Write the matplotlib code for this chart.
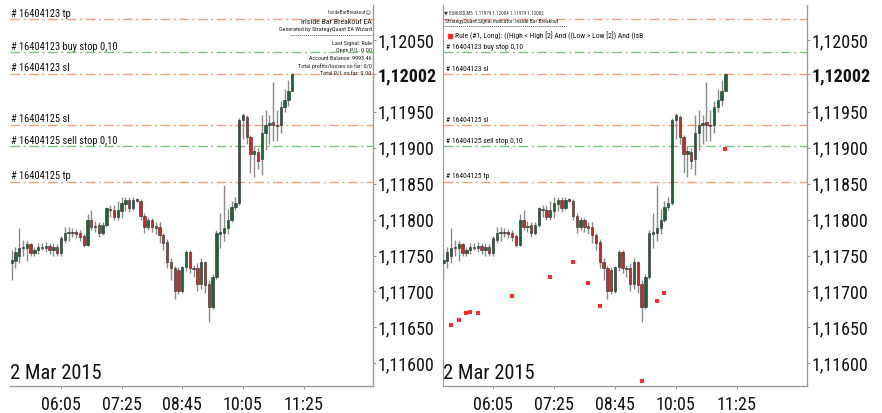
import numpy as np
import matplotlib
matplotlib.use("Agg")
import matplotlib.pyplot as plt
from matplotlib import font_manager as fm

# ---------------- data ----------------
base = 1.11600
opens_pts = [140, 142, 150, 160, 161, 166, 154, 157, 162, 161, 163, 158, 162, 153, 172, 181, 182, 183, 181, 177,
             165, 200, 190, 192, 181, 192, 215, 214, 204, 212, 222, 227, 216, 228, 226, 205, 190, 200, 191, 190,
             178, 169, 141, 133, 130, 101, 134, 155, 133, 132, 111, 141, 111, 79, 120, 180, 182, 188, 200, 218,
             223, 338, 343, 315, 292, 294, 285, 320, 332, 336, 332, 331, 357, 366, 379]
highs_pts = [158, 162, 188, 171, 172, 168, 162, 167, 168, 169, 167, 168, 166, 177, 190, 190, 188, 187, 186, 180,
             208, 213, 198, 196, 197, 218, 221, 220, 226, 231, 232, 232, 232, 230, 228, 209, 203, 202, 196, 197,
             182, 173, 146, 135, 134, 136, 158, 157, 137, 140, 146, 143, 116, 124, 185, 209, 248, 215, 226, 232,
             342, 348, 346, 318, 302, 300, 346, 352, 345, 392, 352, 365, 382, 394, 404]
lows_pts = [116, 132, 139, 150, 143, 150, 149, 152, 158, 155, 152, 150, 150, 150, 168, 170, 176, 175, 170, 162,
            163, 185, 183, 176, 178, 190, 203, 200, 200, 202, 212, 210, 213, 224, 200, 182, 186, 183, 180, 168,
            158, 132, 116, 90, 96, 98, 128, 126, 120, 100, 104, 98, 58, 76, 118, 160, 170, 180, 196, 214,
            221, 312, 305, 265, 259, 270, 262, 297, 305, 310, 310, 320, 350, 358, 379]
closes_pts = [144, 155, 160, 162, 166, 153, 157, 162, 161, 163, 158, 162, 153, 174, 181, 182, 183, 180, 176, 165,
              200, 190, 191, 181, 192, 216, 214, 204, 213, 223, 227, 216, 227, 226, 205, 190, 200, 190, 189, 178,
              168, 141, 132, 101, 100, 134, 155, 132, 131, 111, 141, 109, 79, 120, 181, 183, 188, 200, 218, 223,
              339, 346, 315, 292, 296, 281, 320, 332, 334, 331, 330, 357, 366, 379, 402]

opens = base + np.array(opens_pts) / 1e5
highs = base + np.array(highs_pts) / 1e5
lows = base + np.array(lows_pts) / 1e5
closes = base + np.array(closes_pts) / 1e5

tick_bars = [13, 29, 45, 61, 77]
tick_times = ["06:05", "07:25", "08:45", "10:05", "11:25"]
price_ticks = [1.11600, 1.11650, 1.11700, 1.11750, 1.11800, 1.11850, 1.11900, 1.11950, 1.12002, 1.12050]
current_price = 1.12002

# order lines
order_labels = ["# 16404123 tp", "# 16404123 buy stop 0,10", "# 16404123 sl",
                "# 16404125 sl", "# 16404125 sell stop 0,10", "# 16404125 tp"]
order_prices = [1.12079, 1.12033, 1.12003, 1.11932, 1.11902, 1.11853]
order_kinds = ["tpsl", "pending", "tpsl", "tpsl", "pending", "tpsl"]

# indicator signal dots (right panel)
signal_bars = [2, 4, 6, 7, 9, 18, 28, 34, 38, 41, 52, 56, 58, 74]
signal_prices = [1.11653, 1.11660, 1.11670, 1.11671, 1.11670, 1.11694, 1.11720, 1.11741, 1.11712,
                 1.11680, 1.11576, 1.11687, 1.11698, 1.11898]

info_lines = ["Last Signal: Rule", "Open P/L: 0.00", "Account Balance: 9993.46",
              "Total profits/losses so far: 0/0", "Total P/L so far: 0.00"]

# ---------------- fonts ----------------
names = {f.name for f in fm.fontManager.ttflist}
cond = None
stretch = "normal"
for c in ["Roboto Condensed", "Liberation Sans Narrow", "Open Sans Condensed", "Noto Sans Condensed",
          "DejaVu Sans Condensed"]:
    if c in names:
        cond = c
        break
if cond is None:
    dj = [f for f in fm.fontManager.ttflist if f.name == "DejaVu Sans" and f.stretch in ("condensed", 600, "semi-condensed")]
    if dj:
        cond = "DejaVu Sans"
        stretch = "condensed"
    elif "Roboto" in names:
        cond = "Roboto"
    else:
        cond = "DejaVu Sans"
FAM = [cond, "DejaVu Sans"]

W, H = 882, 413
fig = plt.figure(figsize=(W / 100, H / 100), dpi=100)
fig.patch.set_facecolor("white")

ybot, ytop = 1.115688, 1.120987
C_TPSL = "#f5a07c"
C_PEND = "#7cc47c"
C_GREEN = "#1d6338"
C_RED = "#c42b2b"
C_WICK = "#8a8a8a"
C_AXIS = "#9a9a9a"


def ftext(xpx, ypx, s, **kw):
    kw.setdefault("family", FAM)
    kw.setdefault("fontstretch", stretch)
    return fig.text(xpx / W, 1 - ypx / H, s, **kw)


def panel(ax, xleft, label_size, label_x, label_off, show_first_tp):
    n = len(opens)
    x = np.arange(n)
    ax.vlines(x, lows, highs, color=C_WICK, lw=1.0, zorder=2)
    up = closes >= opens
    bottom = np.minimum(opens, closes)
    height = np.maximum(np.abs(closes - opens), 0.000014)
    ax.bar(x, height, bottom=bottom, width=0.62, color=np.where(up, C_GREEN, C_RED),
           edgecolor="#2b2b2b", linewidth=0.4, zorder=3)
    for lab, p, k in zip(order_labels, order_prices, order_kinds):
        ax.axhline(p, color=C_TPSL if k == "tpsl" else C_PEND, lw=1.0,
                   linestyle=(0, (7, 2.5, 1.5, 2.5)), zorder=1)
        if lab.endswith("tp") and lab.startswith("# 16404123") and not show_first_tp:
            continue
        ax.annotate(lab, xy=(label_x, p), xytext=(0, label_off), textcoords="offset points",
                    ha="left", va="center", fontsize=label_size, family=FAM, fontstretch=stretch,
                    color="#111111", zorder=5)
    ax.set_xlim(xleft, 95.4)
    ax.set_ylim(ybot, ytop)
    ax.yaxis.tick_right()
    ax.set_yticks(price_ticks)
    ax.set_yticklabels([f"{p:.5f}".replace(".", ",") for p in price_ticks])
    for t, p in zip(ax.get_yticklabels(), price_ticks):
        t.set_family(FAM)
        t.set_fontstretch(stretch)
        t.set_fontsize(13)
        t.set_color("#111111")
        if abs(p - current_price) < 1e-7:
            t.set_fontweight("bold")
    ax.set_xticks(tick_bars)
    ax.set_xticklabels(tick_times)
    for t in ax.get_xticklabels():
        t.set_family(FAM)
        t.set_fontstretch(stretch)
        t.set_fontsize(13)
        t.set_color("#111111")
    ax.tick_params(axis="y", direction="out", length=2.5, width=0.8, color=C_AXIS, pad=0.8)
    ax.tick_params(axis="x", direction="out", length=2.5, width=0.8, color=C_AXIS, pad=4.8)
    for s in ["top", "left"]:
        ax.spines[s].set_visible(False)
    for s in ["right", "bottom"]:
        ax.spines[s].set_color(C_AXIS)
        ax.spines[s].set_linewidth(1.0)
    ax.text(0.0, 0.006, "2 Mar 2015", transform=ax.transAxes, ha="left", va="bottom",
            fontsize=14.8, family=FAM, fontstretch=stretch, color="#111111", zorder=6)
    ax.set_facecolor("white")


axL = fig.add_axes([10 / W, (H - 385.7) / H, 363.3 / W, 380.7 / H])
axR = fig.add_axes([443 / W, (H - 385.7) / H, 364 / W, 380.7 / H])
panel(axL, -0.45, 7.5, -0.3, 4.0, True)
panel(axR, -0.13, 5.4, 0.7, 3.4, False)
axR.spines["left"].set_visible(True)
axR.spines["left"].set_color(C_AXIS)

# signal dots
axR.scatter(signal_bars, signal_prices, s=6.5, marker="s", color="#ff2a2a", linewidths=0, zorder=6)

# left info block
ftext(371.5, 11.7, "InsideBarBreakout\u263a", fontsize=3.8, ha="right", va="center", color="#333")
ftext(371.5, 21.7, "Inside Bar Breakout EA", fontsize=5.7, ha="right", va="center", color="#222")
ftext(371.5, 29.0, "Generated by StrategyQuant EA Wizard", fontsize=4.4, ha="right", va="center", color="#222")
fig.add_artist(plt.Line2D([290 / W, 371.5 / W], [1 - 34.8 / H, 1 - 34.8 / H], color="#555",
                          lw=0.7, linestyle=(0, (1, 1))))
for i, s in enumerate(info_lines):
    ftext(371.5, 43.3 + i * 7.6, s, fontsize=4.4, ha="right", va="center", color="#222")

# right header block
ftext(444.5, 12.7, "\u25bc EURUSD,M5  1.11979 1.12004 1.11979 1.12002", fontsize=3.6, ha="left",
      va="center", color="#333")
ftext(445, 22.0, "StrategyQuant Signal Indicator: Inside Bar Breakout", fontsize=4.1, ha="left",
      va="center", color="#222")
fig.add_artist(plt.Line2D([443 / W, 566 / W], [1 - 25.8 / H, 1 - 25.8 / H], color="#555",
                          lw=0.7, linestyle=(0, (1, 1))))
fig.add_artist(plt.Line2D([450 / W], [1 - 35.8 / H], marker="s", markersize=2.3, color="#ff2a2a", lw=0))
ftext(455, 35.8, "Rule (#1, Long): ((High < High [2] And ((Low > Low [2]) And (IsB", fontsize=5.5,
      ha="left", va="center", color="#111")

fig.savefig("out.png", dpi=100, facecolor="white")
